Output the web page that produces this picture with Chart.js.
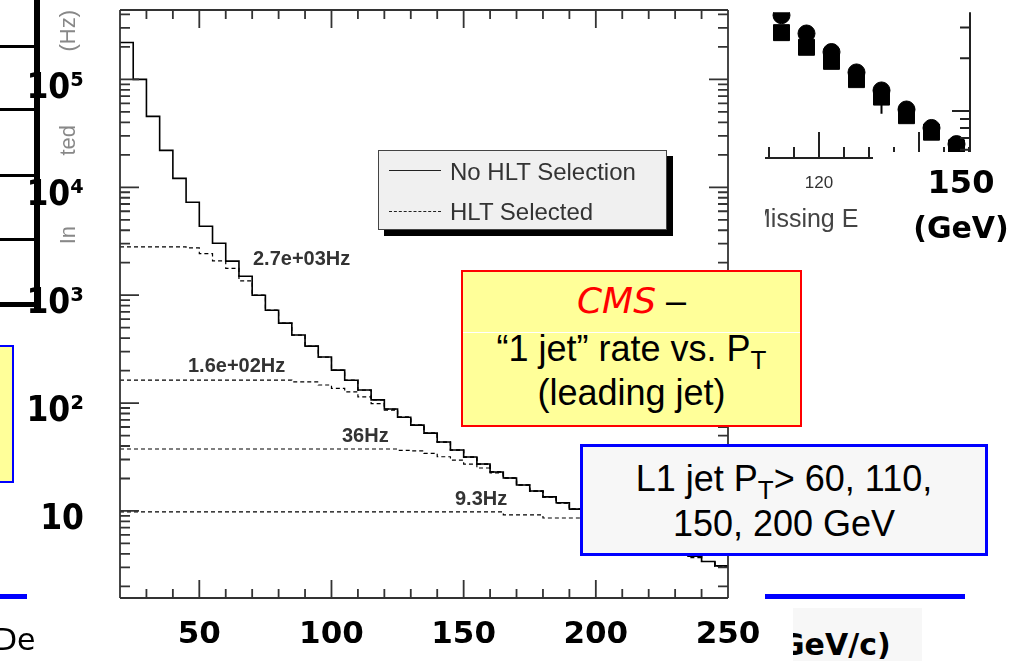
<!DOCTYPE html>
<html>
<head>
<meta charset="UTF-8">
<title>1 jet rate vs PT</title>
<script src="https://cdn.jsdelivr.net/npm/chart.js"></script>
<style>
  body { margin: 0; background: #fff; }
  #page { position: relative; width: 1027px; height: 661px; overflow: hidden; font-family: "Liberation Sans", Arial, sans-serif; }
  .abs { position: absolute; }
  .vt { position: absolute; writing-mode: vertical-rl; transform: rotate(180deg); font-size: 22px; color: #888; line-height: 24px; }
  .hz { position: absolute; font: bold 20px "Liberation Sans", Arial, sans-serif; color: #333; line-height: 24px; white-space: nowrap; }
  .big { position: absolute; left: 0; width: 100%; text-align: center; font-size: 36px; line-height: 44px; color: #000; white-space: nowrap; }
  .sub { font-size: 26px; position: relative; top: 8px; }
</style>
</head>
<body>
<div id="page">
  <canvas id="rateChart" class="abs" width="1027" height="661" style="left:0;top:0"></canvas>
  <canvas id="metChart" class="abs" width="287" height="200" style="left:740px;top:0"></canvas>

  <!-- left-hand fragments -->
  <div class="abs" style="left:34px;top:0;width:6px;height:312px;background:#000"></div>
  <div class="abs" style="left:0;top:45px;width:37px;height:3px;background:#000"></div>
  <div class="abs" style="left:0;top:108px;width:37px;height:3px;background:#000"></div>
  <div class="abs" style="left:0;top:174px;width:37px;height:3px;background:#000"></div>
  <div class="abs" style="left:0;top:238px;width:37px;height:3px;background:#000"></div>
  <div class="abs" style="left:0;top:302px;width:37px;height:5px;background:#000"></div>
  <div class="vt" style="left:56px;top:10px">(Hz)</div>
  <div class="vt" style="left:56px;top:125px">ted</div>
  <div class="vt" style="left:56px;top:226px">In</div>
  <div class="abs" style="left:-4px;top:345px;width:18px;height:138px;box-sizing:border-box;border:2px solid #00f;background:#ffff99"></div>
  <div class="abs" style="left:0;top:594px;width:27px;height:5px;background:#00f"></div>
  <div class="abs" style="left:-6px;top:622px;font:30px 'DejaVu Sans';line-height:36px">De</div>

  <!-- rate labels -->
  <div class="hz" style="left:253px;top:246px">2.7e+03Hz</div>
  <div class="hz" style="left:188px;top:353px">1.6e+02Hz</div>
  <div class="hz" style="left:342px;top:423px">36Hz</div>
  <div class="hz" style="left:455px;top:486px">9.3Hz</div>

  <!-- legend -->
  <div class="abs" style="left:378px;top:150px;width:289px;height:80px;box-sizing:border-box;border:1px solid #444;background:#f0f0f0;box-shadow:6px 6px 0 #000">
    <div class="abs" style="left:10px;top:19px;width:52px;border-top:1.5px solid #222"></div>
    <div class="abs" style="left:10px;top:60px;width:52px;border-top:1.5px dashed #222"></div>
    <div class="abs" style="left:71px;top:7px;font-size:24px;line-height:28px;color:#333">No HLT Selection</div>
    <div class="abs" style="left:71px;top:47px;font-size:24px;line-height:28px;color:#333">HLT Selected</div>
  </div>

  <!-- CMS box -->
  <div class="abs" style="left:461px;top:270px;width:341px;height:157px;box-sizing:border-box;border:2px solid #f00;background:#ffff99">
    <div class="big" style="top:7px"><span style="color:#f00;font-style:italic;font-family:'DejaVu Sans'">CMS</span> &ndash;</div>
    <div class="abs" style="left:0;top:60px;width:100%;height:1px;background:#fff"></div>
    <div class="big" style="top:55px">&ldquo;1 jet&rdquo; rate vs. P<span class="sub">T</span></div>
    <div class="big" style="top:99px">(leading jet)</div>
  </div>

  <!-- L1 box -->
  <div class="abs" style="left:580px;top:444px;width:408px;height:112px;box-sizing:border-box;border:3px solid #00f;background:#f7f7f7">
    <div class="big" style="top:10px">L1 jet P<span class="sub">T</span>&gt; 60, 110,</div>
    <div class="big" style="top:55px">150, 200 GeV</div>
  </div>

  <!-- bottom right -->
  <div class="abs" style="left:765px;top:594px;width:200px;height:5px;background:#00f"></div>
  <div class="abs" style="left:793px;top:608px;width:129px;height:53px;background:#f7f7f7;overflow:hidden">
    <div class="abs" style="left:-13px;top:15px;font:bold 30px 'DejaVu Sans';line-height:44px;white-space:nowrap">GeV/c)</div>
  </div>

  <!-- missing E fragment labels -->
  <div class="abs" style="left:794px;top:172px;width:50px;text-align:center;font-size:17px;line-height:22px;color:#333">120</div>
  <div class="abs" style="left:765px;top:200px;width:110px;height:36px;overflow:hidden;background:#fff">
    <div class="abs" style="left:-15px;top:2px;font-size:25px;line-height:32px;color:#444;white-space:nowrap">Missing E</div>
  </div>
  <div class="abs" style="left:873px;top:152px;width:154px;height:105px;background:#fff">
    <div class="abs" style="left:38px;top:10px;width:100px;text-align:center;font:bold 32px 'DejaVu Sans';line-height:40px">150</div>
    <div class="abs" style="left:38px;top:56px;width:100px;text-align:center;font:bold 30px 'DejaVu Sans';line-height:40px">(GeV)</div>
  </div>
</div>

<script>
    // leading jet pT bins (GeV), lower edges plus the last upper edge
    const ptEdges = [20, 25, 30, 35, 40, 45, 50, 55, 60, 65, 70, 75, 80, 85, 90, 95, 100, 105, 110, 115,
        120, 125, 130, 135, 140, 145, 150, 155, 160, 165, 170, 175, 180, 185, 190, 195, 200, 205, 210,
        215, 220, 225, 230, 235, 240, 245, 250];

    // integrated rate (Hz), one value per bin
    const rateNoHlt = [220000, 100000, 45400, 22000, 12100, 7260, 4360, 3030, 2070, 1500, 1000, 726, 551,
        427, 337, 267, 202, 163, 132, 107, 88, 74, 62.5, 52.7, 43.5, 36.7, 31.6, 27.2, 23, 20.2, 17.4,
        15.3, 13.5, 11.9, 10.4, 9.2, 8.3, 7.4, 6.7, 6.0, 5.4, 4.8, 4.4, 3.8, 3.4, 3.1];
    const rateHlt60 = [2800, 2800, 2800, 2800, 2800, 2740, 2430, 2080, 1770, 1360, 1000, 726, 551,
        427, 337, 267, 202, 163, 132, 107, 88, 74, 62.5, 52.7, 43.5, 36.7, 31.6, 27.2, 23, 20.2, 17.4,
        15.3, 13.5, 11.9, 10.4, 9.2, 8.3, 7.4, 6.7, 6.0, 5.4, 4.8, 4.4, 3.8, 3.4, 3.1];
    const rateHlt110 = [163, 163, 163, 163, 163, 163, 163, 163, 163, 163, 163, 163, 163,
        157, 157, 147, 137, 127, 114, 99, 86, 74, 62.5, 52.7, 43.5, 36.7, 31.6, 27.2, 23, 20.2, 17.4,
        15.3, 13.5, 11.9, 10.4, 9.2, 8.3, 7.4, 6.7, 6.0, 5.4, 4.8, 4.4, 3.8, 3.4, 3.1];
    const rateHlt150 = [37.5, 37.5, 37.5, 37.5, 37.5, 37.5, 37.5, 37.5, 37.5, 37.5, 37.5, 37.5, 37.5,
        37.5, 37.5, 37.5, 37.5, 37.5, 37.5, 37.5, 37.5, 36.5, 36.1, 34.2, 31.8, 29.6, 27.2, 25, 22.5,
        20.2, 17.4, 15.3, 13.5, 11.9, 10.4, 9.2, 8.3, 7.4, 6.7, 6.0, 5.4, 4.8, 4.4, 3.8, 3.4, 3.1];
    const rateHlt200 = [9.8, 9.8, 9.8, 9.8, 9.8, 9.8, 9.8, 9.8, 9.8, 9.8, 9.8, 9.8, 9.8, 9.8, 9.8,
        9.8, 9.8, 9.8, 9.8, 9.8, 9.8, 9.8, 9.8, 9.8, 9.8, 9.8, 9.8, 9.8, 9.8, 9.2, 9.2, 9.2, 8.6, 8.6,
        8.6, 8.0, 7.2, 6.6, 6.0, 5.5, 5.0, 4.5, 4.1, 3.7, 3.4, 3.1];

    const xTickValues = [50, 100, 150, 200, 250];
    const xTickLabels = ['50', '100', '150', '200', '250'];
    const yTickValues = [10, 100, 1000, 10000, 100000];
    const yTickLabels = ['10', '10²', '10³', '10⁴', '10⁵'];

    // missing E fragment (top right)
    const metBins = [112.5, 117.5, 122.5, 127.5, 132.5, 137.5, 142.5, 147.5];
    const metCircle = [352, 277, 217, 166, 131, 102, 80, 64.7];
    const metSquare = [280, 231, 192, 151, 120, 94, 75.7, 61.6];
    const metErrBar = [96.4, 144];

    // ROOT style frame with ticks pointing inwards
    const frameTicks = {
        id: 'frameTicks',
        afterDatasetsDraw(chart, args, o) {
            const ctx = chart.ctx, a = chart.chartArea;
            const xs = chart.scales.x, ys = chart.scales.y;
            const has = s => o.sides.indexOf(s) >= 0;
            ctx.save();
            ctx.strokeStyle = o.color;
            ctx.lineWidth = o.width;
            ctx.beginPath();
            if (has('top')) { ctx.moveTo(a.left, a.top); ctx.lineTo(a.right, a.top); }
            if (has('bottom')) { ctx.moveTo(a.left, a.bottom); ctx.lineTo(a.right, a.bottom); }
            if (has('left')) { ctx.moveTo(a.left, a.top); ctx.lineTo(a.left, a.bottom); }
            if (has('right')) { ctx.moveTo(a.right, a.top); ctx.lineTo(a.right, a.bottom); }

            const xTick = (v, len) => {
                const px = xs.getPixelForValue(v);
                if (px < a.left - 0.5 || px > a.right + 0.5) return;
                if (has('bottom')) { ctx.moveTo(px, a.bottom); ctx.lineTo(px, a.bottom - len); }
                if (has('top')) { ctx.moveTo(px, a.top); ctx.lineTo(px, a.top + len); }
            };
            const yTick = (v, len) => {
                const py = ys.getPixelForValue(v);
                if (py < a.top - 0.5 || py > a.bottom + 0.5) return;
                if (has('left')) { ctx.moveTo(a.left, py); ctx.lineTo(a.left + len, py); }
                if (has('right')) { ctx.moveTo(a.right, py); ctx.lineTo(a.right - len, py); }
            };
            o.xMinor.forEach(v => xTick(v, o.xMinorLen));
            o.xMajor.forEach(v => xTick(v, o.xMajorLen));
            o.yMinor.forEach(v => yTick(v, o.yMinorLen));
            o.yMajor.forEach(v => yTick(v, o.yMajorLen));
            ctx.stroke();
            ctx.restore();
        }
    };
    Chart.register(frameTicks);

    function histPoints(values) {
        const pts = values.map((v, i) => ({ x: ptEdges[i], y: v }));
        pts.push({ x: ptEdges[values.length], y: values[values.length - 1] });
        return pts;
    }

    function histSet(label, values, dashed) {
        return {
            label: label,
            data: histPoints(values),
            borderColor: '#000',
            borderWidth: dashed ? 1.2 : 1.6,
            borderDash: dashed ? [4, 3] : [],
            stepped: true,
            pointRadius: 0,
            fill: false
        };
    }

    // tick positions of the frame
    const xMinor = [], xMajor = [];
    for (let v = 20; v <= 250; v += 10) { if (v % 50 === 0) xMajor.push(v); else xMinor.push(v); }
    const yMinor = [];
    for (let d = 1; d <= 100000; d *= 10) { for (let k = 2; k <= 9; k++) yMinor.push(k * d); }

    new Chart(document.getElementById('rateChart'), {
        type: 'line',
        data: {
            datasets: [
                histSet('No HLT Selection', rateNoHlt, false),
                histSet('HLT Selected (L1 60)', rateHlt60, true),
                histSet('HLT Selected (L1 110)', rateHlt110, true),
                histSet('HLT Selected (L1 150)', rateHlt150, true),
                histSet('HLT Selected (L1 200)', rateHlt200, true)
            ]
        },
        options: {
            responsive: false,
            animation: false,
            devicePixelRatio: 1,
            layout: { padding: { top: 10, right: 299, left: 0, bottom: 0 } },
            plugins: {
                legend: { display: false },
                tooltip: { enabled: false },
                frameTicks: {
                    sides: ['top', 'bottom', 'left', 'right'], color: '#333', width: 1.8,
                    xMinor: xMinor, xMajor: xMajor, yMinor: yMinor, yMajor: yTickValues,
                    xMinorLen: 9, xMajorLen: 18, yMinorLen: 10, yMajorLen: 19
                }
            },
            scales: {
                x: {
                    type: 'linear', min: 20, max: 250,
                    grid: { display: false, drawTicks: false },
                    border: { display: false },
                    afterBuildTicks: s => { s.ticks = xTickValues.map(v => ({ value: v })); },
                    afterFit: s => { s.height = 63; s.paddingLeft = 0; s.paddingRight = 0; },
                    ticks: {
                        callback: (v, i) => xTickLabels[i],
                        autoSkip: false, maxRotation: 0, padding: 18, color: '#000',
                        font: { family: 'DejaVu Sans', size: 31, weight: 'bold' }
                    }
                },
                y: {
                    type: 'logarithmic', min: 1.56, max: 440000,
                    grid: { display: false, drawTicks: false },
                    border: { display: false },
                    afterBuildTicks: s => { s.ticks = yTickValues.map(v => ({ value: v })); },
                    afterFit: s => { s.width = 120; s.paddingTop = 0; s.paddingBottom = 0; },
                    ticks: {
                        callback: (v, i) => yTickLabels[i],
                        autoSkip: false, padding: 36, labelOffset: 9, color: '#000',
                        font: { family: 'DejaVu Sans Condensed', size: 35, weight: 'bold' }
                    }
                }
            }
        }
    });

    new Chart(document.getElementById('metChart'), {
        type: 'scatter',
        data: {
            datasets: [
                {
                    data: metBins.map((x, i) => ({ x: x, y: metCircle[i] })),
                    pointStyle: 'circle', pointRadius: 8.5, backgroundColor: '#000', borderColor: '#000'
                },
                {
                    data: metBins.map((x, i) => ({ x: x, y: metSquare[i] })),
                    pointStyle: 'rect', pointRadius: 11.3, backgroundColor: '#000', borderColor: '#000'
                },
                {
                    data: [{ x: metBins[4], y: metErrBar[0] }, { x: metBins[4], y: metErrBar[1] }],
                    showLine: true, pointRadius: 0, borderColor: '#000', borderWidth: 2
                }
            ]
        },
        options: {
            responsive: false,
            animation: false,
            devicePixelRatio: 1,
            layout: { padding: { top: 0, right: 57, left: 25, bottom: 42 } },
            plugins: {
                legend: { display: false },
                tooltip: { enabled: false },
                frameTicks: {
                    sides: ['bottom', 'right'], color: '#222', width: 2,
                    xMinor: [110, 115, 125, 130, 135, 145, 150], xMajor: [120, 140],
                    yMinor: [60, 70, 80, 90, 200, 300], yMajor: [100],
                    xMinorLen: 11, xMajorLen: 26, yMinorLen: 10, yMajorLen: 18
                }
            },
            scales: {
                x: { type: 'linear', min: 109.2, max: 150.2, display: false },
                y: { type: 'logarithmic', min: 53.9, max: 365.8, display: false }
            }
        }
    });
</script>
</body>
</html>
